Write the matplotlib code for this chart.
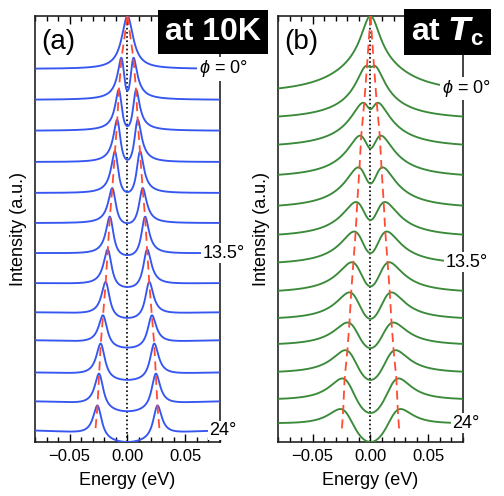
#!/usr/bin/env python3
"""
Symmetrized EDC stacks along the Fermi surface: 10 K (a) and Tc (b).
"""

import matplotlib
matplotlib.use("Agg")
import matplotlib.pyplot as plt
import numpy as np
from matplotlib.ticker import MultipleLocator

plt.rcParams["font.family"] = ["Liberation Sans", "DejaVu Sans"]
plt.rcParams["mathtext.fontset"] = "custom"
plt.rcParams["mathtext.rm"] = "Liberation Sans"
plt.rcParams["mathtext.it"] = "Liberation Sans:italic"
plt.rcParams["mathtext.bf"] = "Liberation Sans:bold"

# ---- values (one entry per spectrum, phi = 0 deg at top) ----
# panel (a), 10 K
gap_a = [0.0, 0.0051, 0.0074, 0.0088, 0.0108, 0.0131, 0.0152,
         0.0170, 0.0188, 0.0211, 0.0231, 0.0245, 0.0259]          # peak position [eV]
peak_a = [14.18, 12.79, 11.73, 10.73, 9.68, 8.46, 7.51,
          6.42, 5.34, 4.23, 3.29, 2.29, 1.23]                      # peak level
edge_a = [12.43, 11.40, 10.37, 9.33, 8.30, 7.30, 6.30,
          5.30, 4.33, 3.40, 2.33, 1.37, 0.40]                      # level at +-0.08 eV
bg_a = [0.0, 0.0, 0.0, 0.05, 0.05, 0.05, 0.10,
        0.15, 0.20, 0.25, 0.25, 0.33, 0.38]                        # background rise
width_a = [0.006, 0.006, 0.006, 0.0065, 0.0065, 0.007, 0.007,
           0.0075, 0.0075, 0.008, 0.008, 0.008, 0.008]             # scattering rate [eV]
fill_a = 0.001
line_end_a = (0.028, 0.30)     # where the red guide lines stop at the bottom

# panel (b), Tc
gap_b = [0.0, 0.0030, 0.0054, 0.0080, 0.0095, 0.0114, 0.0128,
         0.0148, 0.0167, 0.0182, 0.0200, 0.0224, 0.0236]
peak_b = [14.16, 12.51, 11.29, 10.20, 9.15, 8.00, 7.02,
          6.00, 5.00, 4.00, 3.08, 2.14, 1.12]
edge_b = [11.76, 10.83, 9.90, 8.90, 7.88, 6.92, 6.00,
          5.06, 4.16, 3.30, 2.38, 1.48, 0.68]
bg_b = [-0.90, -0.40, -0.30, -0.20, -0.15, -0.05, 0.08,
        0.15, 0.25, 0.30, 0.40, 0.55, 0.68]
width_b = [0.010, 0.013, 0.017, 0.019, 0.020, 0.022, 0.023,
           0.024, 0.024, 0.025, 0.025, 0.025, 0.025]
fill_b = 0.004
line_end_b = (0.025, 0.34)

angle_labels = {0: r"$\phi$ = 0°", 6: "13.5°", 12: "24°"}

E_MAX = 0.08
BG_WIDTH = 0.035
energy = np.linspace(-E_MAX, E_MAX, 1601)


def gapped_spectrum(e, gap, g1, g0):
    """Norman-type spectral function, normalized to 1 at its maximum."""
    sig_re = gap ** 2 * e / (e ** 2 + g0 ** 2)
    sig_im = g1 + gap ** 2 * g0 / (e ** 2 + g0 ** 2)
    a = sig_im / ((e - sig_re) ** 2 + sig_im ** 2)
    return a / a.max()


def background(e):
    b = e ** 2 / (e ** 2 + BG_WIDTH ** 2)
    return b / (E_MAX ** 2 / (E_MAX ** 2 + BG_WIDTH ** 2))


def build_curve(gap, peak, edge, bg, g1, g0):
    shape = gapped_spectrum(energy, gap, g1, g0)
    back = background(energy)
    p = shape[-1]
    q = background(np.array(gap))
    amp = (peak - edge + bg * (1 - q)) / (1 - p)
    base = edge - bg - amp * p
    return base + bg * back + amp * shape


def draw_panel(ax, gaps, peaks, edges, bgs, widths, fill, line_end, color,
               letter, title, title_x):
    curves = [build_curve(g, pk, ed, b, w, fill)
              for g, pk, ed, b, w in zip(gaps, peaks, edges, bgs, widths)]
    for c in curves:
        ax.plot(energy, c, color=color, lw=1.35, zorder=3)

    lo = min(c.min() for c in curves)
    hi = max(c.max() for c in curves)

    ax.axvline(0.0, color="black", lw=1.2, ls=(0, (1, 1.5)), zorder=2)
    gx = np.array(list(gaps) + [line_end[0]])
    gy = np.array(list(peaks) + [line_end[1]])
    for sign in (-1, 1):
        ax.plot(sign * gx, gy, color="#ff4b33", lw=1.3, ls=(0, (5, 3)),
                zorder=4)

    ax.set_xlim(-E_MAX, E_MAX)
    ax.set_ylim(lo, hi)
    ax.xaxis.set_major_locator(MultipleLocator(0.05))
    ax.xaxis.set_minor_locator(MultipleLocator(0.01))
    ax.xaxis.set_major_formatter(lambda v, pos: f"{v:.2f}".replace("-", "\u2212"))
    ax.tick_params(axis="x", which="both", direction="in", top=True,
                   labelsize=12, width=1.0, pad=5)
    ax.tick_params(axis="x", which="major", length=6)
    ax.tick_params(axis="x", which="minor", length=3.5)
    ax.set_yticks([])
    for s in ax.spines.values():
        s.set_linewidth(1.2)
        s.set_color("#222222")

    ax.set_xlabel("Energy (eV)", fontsize=13, labelpad=6)
    ax.set_ylabel("Intensity (a.u.)", fontsize=13, labelpad=6)

    ax.text(0.035, 0.94, letter, transform=ax.transAxes, fontsize=20,
            ha="left", va="center", zorder=6)

    for idx, lab in angle_labels.items():
        ax.text(1.018, edges[idx], lab, transform=ax.get_yaxis_transform(),
                fontsize=13, ha="center", va="center", zorder=7,
                bbox=dict(facecolor="white", edgecolor="none", pad=1.0),
                clip_on=False)

    ax.text(title_x, 0.962, title, transform=ax.transAxes, fontsize=23,
            fontweight="bold", color="white", ha="center", va="center",
            zorder=8, bbox=dict(facecolor="black", edgecolor="none", pad=5),
            clip_on=False)


fig = plt.figure(figsize=(5.04, 4.96), dpi=100)
ax_a = fig.add_axes([0.0694, 0.1089, 0.367, 0.8589])
ax_b = fig.add_axes([0.5516, 0.1089, 0.367, 0.8589])

draw_panel(ax_a, gap_a, peak_a, edge_a, bg_a, width_a, fill_a, line_end_a,
           "#3556f0", "(a)", "at 10K", 0.965)
draw_panel(ax_b, gap_b, peak_b, edge_b, bg_b, width_b, fill_b, line_end_b,
           "#3a8a3a", "(b)", r"at $\boldsymbol{T}_\mathbf{c}$", 0.915)

fig.savefig("out.png", dpi=100)
